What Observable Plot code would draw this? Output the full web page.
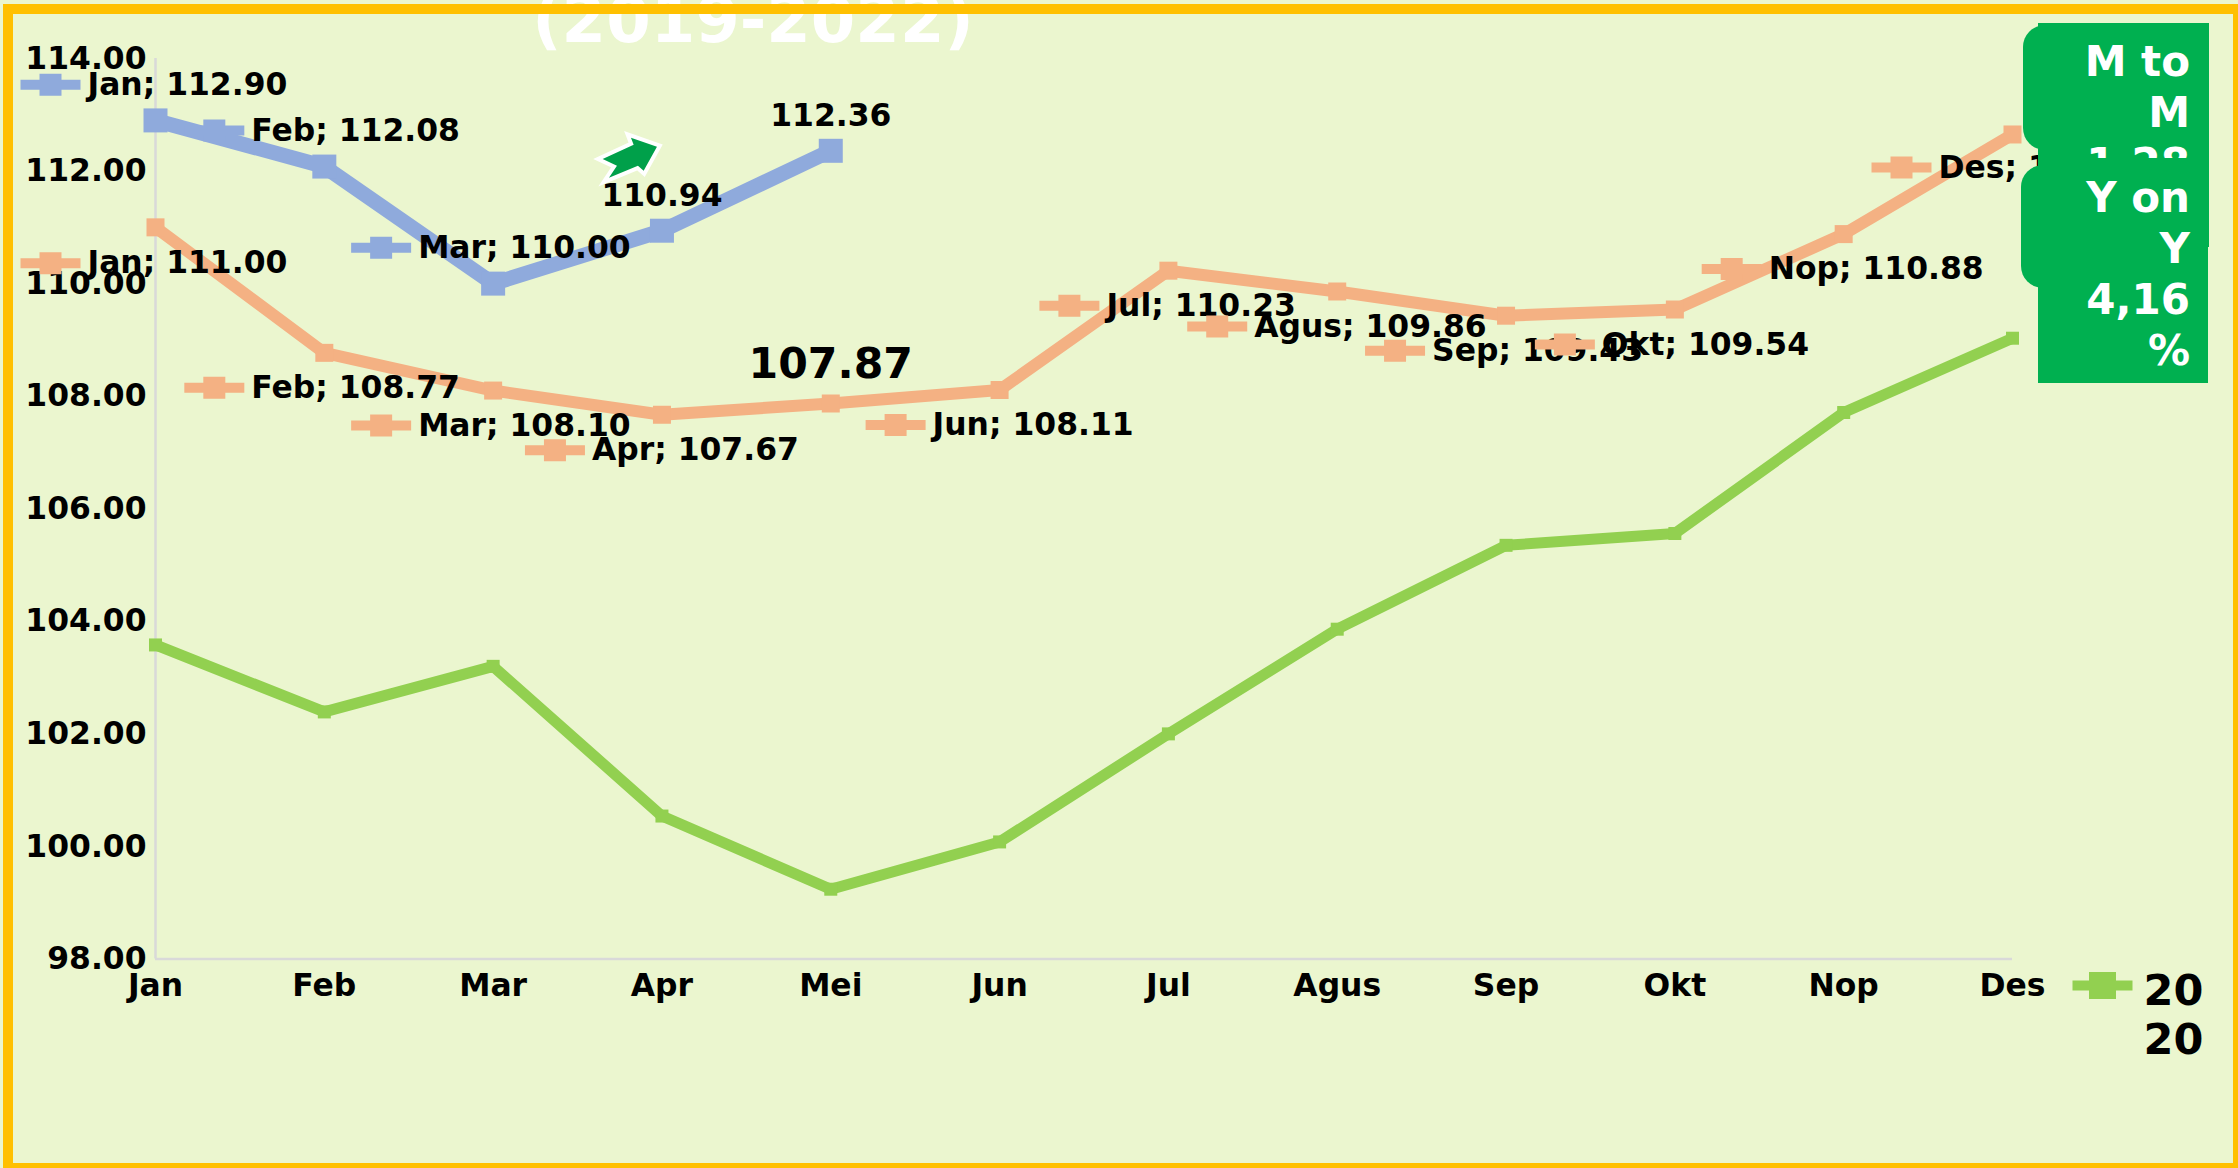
<!DOCTYPE html>
<html>
<head>
<meta charset="utf-8">
<script src="https://cdn.jsdelivr.net/npm/d3@7"></script>
<script src="https://cdn.jsdelivr.net/npm/@observablehq/plot@0.6"></script>
<style>
html,body{margin:0;padding:0;background:#ebf6cf;overflow:hidden;}
#wrap{position:relative;width:2238px;height:1168px;overflow:hidden;font-family:"DejaVu Sans",sans-serif;background:#ebf6cf;}
#wrap svg{position:absolute;left:0;top:0;background:transparent;}
.abs{position:absolute;}
.green{background:#00b050;}
.boxtext{position:absolute;color:#fff;font-weight:bold;font-size:42px;line-height:51px;text-align:right;white-space:nowrap;}
#title{position:absolute;left:453px;width:600px;top:-11px;text-align:center;color:#fff;font-weight:bold;font-size:64px;line-height:62px;white-space:nowrap;}
#frame{position:absolute;left:3px;top:4px;width:2239.5px;height:1169px;box-sizing:border-box;border:10px solid #ffc000;pointer-events:none;}
</style>
</head>
<body>
<div id="wrap"></div>
<script>
const months = ["Jan","Feb","Mar","Apr","Mei","Jun","Jul","Agus","Sep","Okt","Nop","Des"];
const yTicks = [98,100,102,104,106,108,110,112,114];
const values2020 = [103.58,102.39,103.20,100.54,99.24,100.08,102.00,103.86,105.35,105.56,107.71,109.03];
const values2021 = [111.00,108.77,108.10,107.67,107.87,108.11,110.23,109.86,109.43,109.54,110.88,112.65];
const values2022 = [112.90,112.08,110.00,110.94,112.36];

// label layout: index into months, offset of the key from the point, vertical offset
const labels2021 = [[0,-105,36],[1,-110,35],[2,-112,35],[3,-107,35.6],[5,-104,35],[6,-99,35],[7,-120,35],[8,-111,35],[9,-110,35],[10,-112,35],[11,-111,33]];
const labels2022 = [[0,-105,-35.6],[1,-110,-36],[2,-112,-36]];

const BLUE="#8faadc", ORANGE="#f4b183", GREEN="#92d050";

const rows = (vals)=>vals.map((v,i)=>({month:months[i],value:v}));
const squareSym = s=>({draw(c){c.rect(-s/2,-s/2,s,s);}});
const keySym = s=>({draw(c){c.rect(-30,-5,60,10);c.rect(-s/2,-s/2,s,s);}});
const arrowSym = {draw(c){
  const p=[[28,-9],[2,-18],[4.7,-11],[-26.3,3.3],[-12,10],[-20,22],[9,10],[14.7,15]];
  c.moveTo(p[0][0],p[0][1]);p.slice(1).forEach(q=>c.lineTo(q[0],q[1]));c.closePath();
}};
const X={x:"month",y:"value"};
const FS=31.4;

const series = (vals,color,lw,ms)=>[
  Plot.line(rows(vals),{...X,stroke:color,strokeWidth:lw,strokeLinejoin:"miter",curve:"linear"}),
  Plot.dot(rows(vals),{...X,r:5,fill:color,stroke:"none",symbol:squareSym(ms)})
];
const keyed = (vals,color,spec)=>spec.flatMap(([i,dx,dy])=>{
  const d=[{month:months[i],value:vals[i]}];
  return [
    Plot.dot(d,{...X,r:5,fill:color,stroke:"none",symbol:keySym(22),dx,dy}),
    Plot.text(d,{...X,text:r=>`${r.month}; ${r.value.toFixed(2)}`,dx:dx+37,dy,textAnchor:"start",lineAnchor:"middle",fontSize:FS,fontWeight:"bold",fill:"#000"})
  ];
});
const plain = (m,v,dy,fs)=>Plot.text([{month:m,value:v}],{...X,text:r=>r.value.toFixed(2),dy,lineAnchor:"middle",fontSize:fs,fontWeight:"bold",fill:"#000"});

const chart = Plot.plot({
  width:2238,height:1168,
  marginLeft:155,marginRight:226,marginTop:58,marginBottom:209.5,
  style:{fontFamily:"'DejaVu Sans',sans-serif",background:"transparent",overflow:"visible"},
  x:{type:"point",domain:months,padding:0,round:false},
  y:{domain:[98,114]},
  marks:[
    Plot.ruleY([98],{stroke:"#d9d9d9",strokeWidth:2.5}),
    Plot.ruleX(["Jan"],{stroke:"#d9d9d9",strokeWidth:2.5}),
    Plot.axisY({ticks:yTicks,tickFormat:d3.format(".2f"),tickSize:0,tickPadding:9,fontSize:FS,fontWeight:"bold",fill:"#000",label:null}),
    Plot.axisX({tickSize:0,tickPadding:15,fontSize:FS,fontWeight:"bold",fill:"#000",label:null}),
    ...series(values2020,GREEN,11,13),
    ...series(values2021,ORANGE,12,18),
    ...series(values2022,BLUE,15,24),
    ...keyed(values2021,ORANGE,labels2021),
    ...keyed(values2022,BLUE,labels2022),
    plain("Apr",values2022[3],-34.5,FS),
    plain("Mei",values2022[4],-35,FS),
    plain("Mei",values2021[4],-39,42.6),
    Plot.dot([{month:"Apr",value:values2022[3]}],{...X,r:5,symbol:arrowSym,fill:"#00a04a",stroke:"#fff",strokeWidth:8,paintOrder:"stroke",strokeLinejoin:"miter",dx:-33,dy:-75}),
    Plot.dot([{month:"Des",value:98}],{...X,r:5,fill:GREEN,stroke:"none",symbol:keySym(27),dx:90,dy:26.5}),
    Plot.text([{month:"Des",value:98}],{...X,text:()=>"20\n20",dx:131,dy:54.5,textAnchor:"start",lineAnchor:"middle",lineHeight:1.16,fontSize:43,fontWeight:"bold",fill:"#000"})
  ]
});
const wrap=document.getElementById("wrap");
wrap.appendChild(chart);
function add(html){const t=document.createElement("template");t.innerHTML=html;wrap.appendChild(t.content.firstChild);}
add(`<div id="title">(2019-2022)</div>`);
// M to M box
add(`<div class="abs green" style="left:2023px;top:25px;width:60px;height:125px;border-radius:22px;"></div>`);
add(`<div class="abs green" style="left:2038px;top:23px;width:171px;height:224px;"></div>`);
add(`<div class="boxtext" style="left:2040px;width:150px;top:36px;">M to<br>M<br>1,28<br>%</div>`);
// Y on Y box, painted over the first
add(`<div class="abs green" style="left:2021px;top:165px;width:60px;height:123px;border-radius:22px;"></div>`);
add(`<div class="abs green" style="left:2038px;top:158px;width:170px;height:225px;"></div>`);
add(`<div class="boxtext" style="left:2040px;width:150px;top:172px;">Y on<br>Y<br>4,16<br>%</div>`);
add(`<div id="frame"></div>`);
</script>
</body>
</html>
